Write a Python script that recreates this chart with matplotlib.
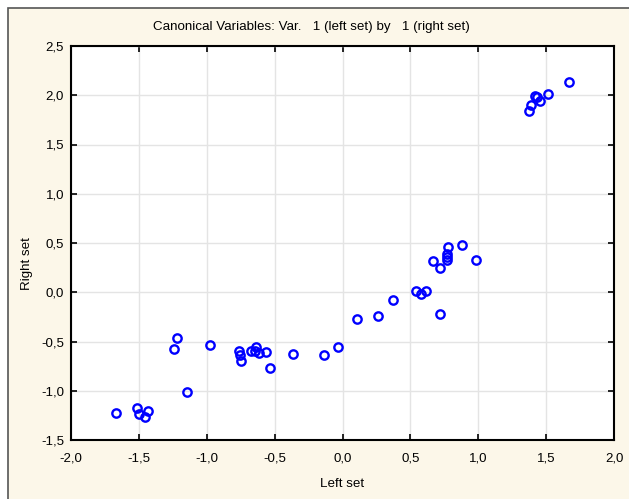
import matplotlib
matplotlib.use("Agg")
import matplotlib.pyplot as plt
from matplotlib.patches import Rectangle
from matplotlib.ticker import FuncFormatter, MultipleLocator

plt.rcParams['font.family'] = ['Liberation Sans', 'DejaVu Sans']

left_set = [-1.668, -1.512, -1.499, -1.455, -1.431, -1.143,
            -1.217, -1.239, -0.976, -0.762, -0.755, -0.750, -0.676, -0.639,
            -0.645, -0.617, -0.564, -0.534,
            -0.367, -0.134, -0.035, 0.105, 0.259, 0.370,
            0.779, 0.878, 0.772, 0.772, 0.772, 0.669, 0.720, 0.986,
            0.541, 0.576, 0.615, 0.720,
            1.671, 1.516, 1.418, 1.431, 1.455, 1.386, 1.376]
right_set = [-1.223, -1.172, -1.239, -1.270, -1.206, -1.013,
             -0.464, -0.579, -0.536, -0.599, -0.637, -0.698, -0.596, -0.559,
             -0.594, -0.614, -0.610, -0.766,
             -0.624, -0.640, -0.556, -0.272, -0.238, -0.082,
             0.462, 0.477, 0.385, 0.358, 0.327, 0.317, 0.243, 0.330,
             0.017, -0.013, 0.017, -0.224,
             2.138, 2.016, 1.995, 1.979, 1.939, 1.904, 1.843]

title = "Canonical Variables: Var.   1 (left set) by   1 (right set)"
xlabel = "Left set"
ylabel = "Right set"

W, H = 629, 499
fig = plt.figure(figsize=(W / 100, H / 100), dpi=100)
fig.patch.set_facecolor('white')
frame = Rectangle((7.5 / W, -0.2), 1.2, 1.2 - 7.5 / H, transform=fig.transFigure,
                  facecolor='#FCF7E9', edgecolor='#555555', linewidth=1.2, zorder=-10)
fig.patches.append(frame)

ax = fig.add_axes([71 / W, (H - 440) / H, (614 - 71) / W, (440 - 46) / H])
ax.set_facecolor('white')
ax.plot(left_set, right_set, linestyle='none', marker='o', markersize=6,
        markerfacecolor='none', markeredgecolor='#0000FF', markeredgewidth=1.7,
        clip_on=False, zorder=3)

ax.set_xlim(-2.0, 2.0)
ax.set_ylim(-1.5, 2.5)
ax.xaxis.set_major_locator(MultipleLocator(0.5))
ax.yaxis.set_major_locator(MultipleLocator(0.5))
fmt = FuncFormatter(lambda v, p: f"{v:.1f}".replace('.', ','))
ax.xaxis.set_major_formatter(fmt)
ax.yaxis.set_major_formatter(fmt)
ax.grid(True, color='#E4E4E4', linewidth=1.0)
ax.set_axisbelow(True)
for s in ax.spines.values():
    s.set_color('black')
    s.set_linewidth(1.5)
ax.tick_params(direction='in', length=4, width=1.2, top=True, right=True,
               labelsize=9.5, colors='black')
ax.tick_params(axis='x', pad=9)
ax.tick_params(axis='y', pad=5)

fig.text(0.495, 1 - 27 / H, title, ha='center', va='center', fontsize=9.6)
fig.text(342 / W, 1 - 484 / H, xlabel, ha='center', va='center', fontsize=9.6)
fig.text(27 / W, 1 - 264 / H, ylabel, ha='center', va='center', rotation=90, fontsize=9.6)

fig.savefig('out.png', dpi=100)
